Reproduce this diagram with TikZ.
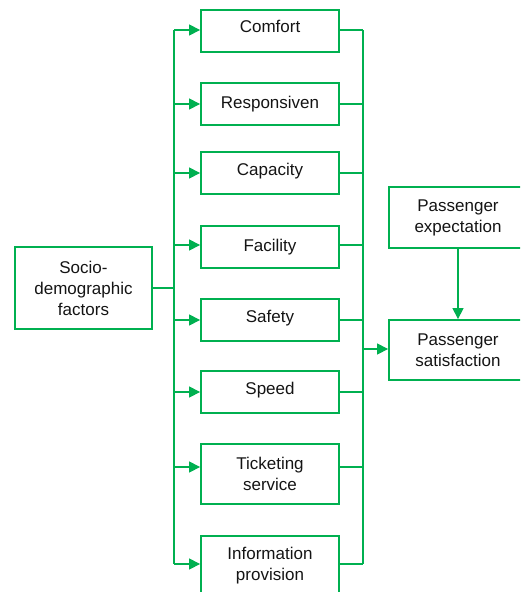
\documentclass[tikz,border=0pt]{standalone}
\usepackage{fontspec}
\setmainfont{Liberation Sans}
\usetikzlibrary{arrows.meta}
\definecolor{grn}{RGB}{0,176,80}
\definecolor{txt}{RGB}{20,20,20}
\tikzset{
  box/.style={draw=grn, line width=1.8pt, minimum width=138pt, align=center, inner sep=2pt,
    text=txt, font=\fontsize{17}{21}\selectfont},
  conn/.style={draw=grn, line width=1.2pt},
  arr/.style={conn, -{Triangle[length=11pt,width=11pt]}}
}
\begin{document}
\begin{tikzpicture}[x=1pt,y=-1pt]
\useasboundingbox (0,0) rectangle (520,592);
\clip (0,0) rectangle (520,592);
% factor boxes
\node[box, minimum height=42pt, text depth=10pt] (comfort) at (270,31) {Comfort};
\node[box, minimum height=42pt] (resp) at (270,104) {Responsiven};
\node[box, minimum height=42pt, text depth=7pt] (cap) at (270,173) {Capacity};
\node[box, minimum height=42pt] (fac) at (270,247) {Facility};
\node[box, minimum height=42pt, text depth=7pt] (safe) at (270,320) {Safety};
\node[box, minimum height=42pt, text depth=7pt] (speed) at (270,392) {Speed};
\node[box, minimum height=60pt] (tick) at (270,474) {Ticketing\\service};
\node[box, minimum height=60pt] (info) at (270,566) {Information\\provision};
% left
\node[box, minimum width=137pt, minimum height=82pt] (socio) at (83.5,288) {Socio-\\demographic\\factors};
% right
\node[box, minimum height=61pt] (expect) at (458,217.5) {Passenger\\expectation};
\node[box, minimum height=60pt] (sat) at (458,350) {Passenger\\satisfaction};
% bus coordinates
\coordinate (lt) at (174,30);
\coordinate (lb) at (174,564);
\coordinate (rt) at (363,30);
\coordinate (rb) at (363,564);
\coordinate (rs) at (363,349);
% left bus
\draw[conn] (lt) -- (lb);
\draw[conn] (socio.east) -- (socio.east -| lt);
\draw[arr] (lt) -- ([yshift=1pt]comfort.west);
\draw[arr] (lt |- resp.west) -- (resp.west);
\draw[arr] (lt |- cap.west) -- (cap.west);
\draw[arr] ([yshift=2pt]lt |- fac.west) -- ([yshift=2pt]fac.west);
\draw[arr] (lt |- safe.west) -- (safe.west);
\draw[arr] (lt |- speed.west) -- (speed.west);
\draw[arr] ([yshift=7pt]lt |- tick.west) -- ([yshift=7pt]tick.west);
\draw[arr] (lb) -- ([yshift=2pt]info.west);
% right bus
\draw[conn] (rt) -- (rb);
\draw[conn] ([yshift=1pt]comfort.east) -- (rt);
\draw[conn] (resp.east) -- (resp.east -| rt);
\draw[conn] (cap.east) -- (cap.east -| rt);
\draw[conn] ([yshift=2pt]fac.east) -- ([yshift=2pt]fac.east -| rt);
\draw[conn] (safe.east) -- (safe.east -| rt);
\draw[conn] (speed.east) -- (speed.east -| rt);
\draw[conn] ([yshift=7pt]tick.east) -- ([yshift=7pt]tick.east -| rt);
\draw[conn] ([yshift=2pt]info.east) -- (rb);
\draw[arr] (rs) -- (rs -| sat.west);
\draw[arr] (expect.south) -- (sat.north);
\end{tikzpicture}
\end{document}
